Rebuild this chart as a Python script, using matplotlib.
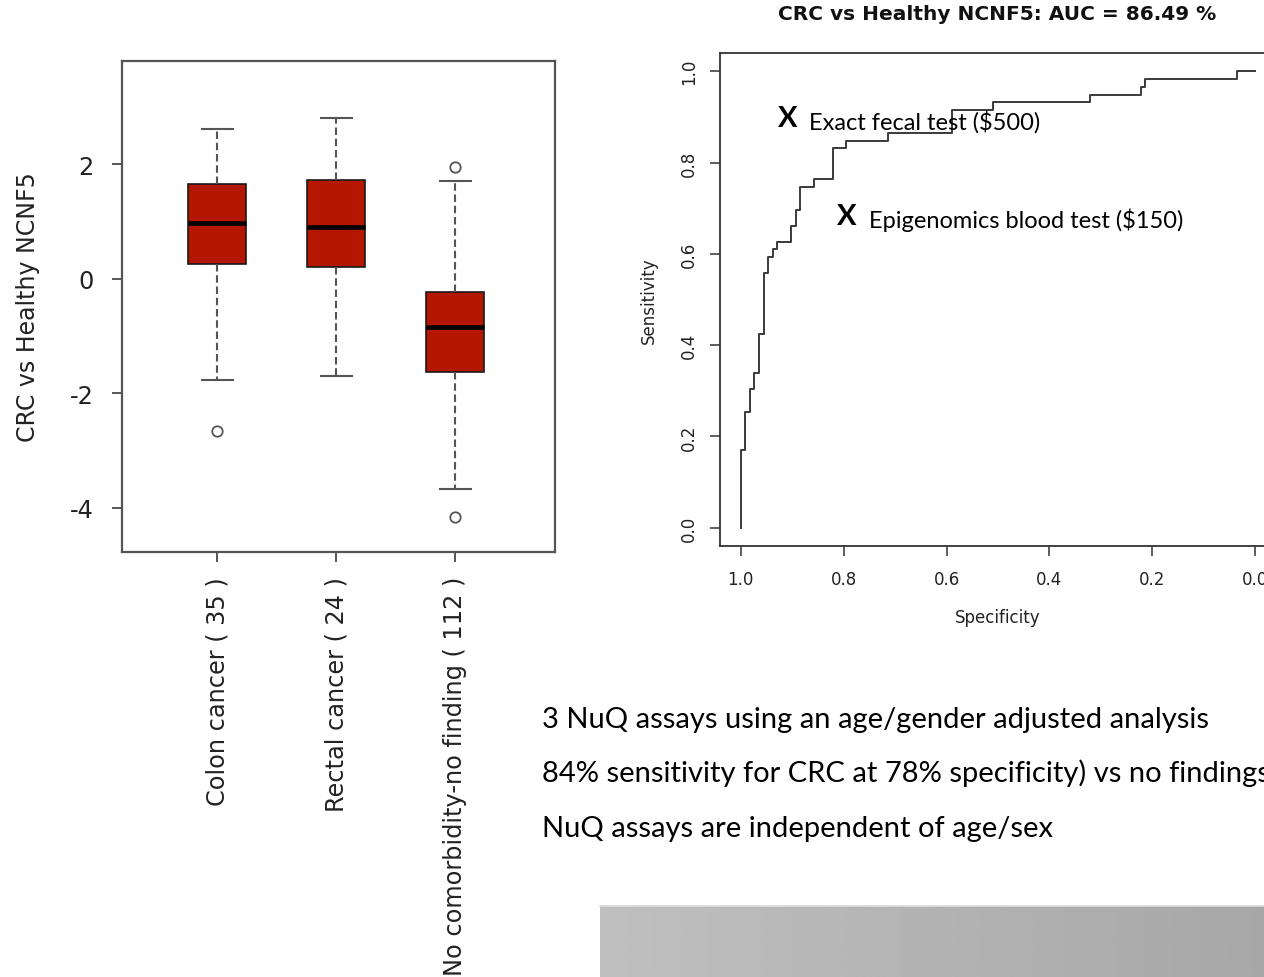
import matplotlib
matplotlib.use('Agg')
import matplotlib.pyplot as plt
import numpy as np

plt.rcParams['axes.unicode_minus'] = False
plt.rcParams['font.family'] = 'DejaVu Sans'

# box plot summary for each group (NCNF5 score)
groups = ['Colon cancer ( 35 )', 'Rectal cancer ( 24 )', 'No comorbidity-no finding ( 112 )']
whisker_low = [-1.77, -1.69, -3.67]
q1 = [0.25, 0.20, -1.63]
median = [0.97, 0.90, -0.85]
q3 = [1.66, 1.72, -0.23]
whisker_high = [2.62, 2.80, 1.71]
outliers = [[-2.65], [], [1.95, -4.16]]

# ROC curve, CRC vs healthy: specificity where each rise happens, sensitivity after it
specificity = [1.0, 1.0, 0.991, 0.982, 0.973, 0.964, 0.955, 0.946, 0.938, 0.929,
               0.902, 0.893, 0.884, 0.857, 0.821, 0.795, 0.714, 0.589, 0.509,
               0.321, 0.223, 0.214, 0.036, 0.0]
sensitivity = [0.0, 0.170, 0.254, 0.305, 0.339, 0.424, 0.559, 0.593, 0.610, 0.627,
               0.661, 0.695, 0.746, 0.763, 0.831, 0.847, 0.864, 0.915, 0.932,
               0.949, 0.966, 0.983, 1.0, 1.0]
roc_title = 'CRC vs Healthy NCNF5: AUC = 86.49 %'

# competing tests marked on the ROC plot
tests = ['Exact fecal test ($500)', 'Epigenomics blood test ($150)']
test_spec = [0.909, 0.793]
test_sens = [0.898, 0.683]

notes = ['3 NuQ assays using an age/gender adjusted analysis',
         '84% sensitivity for CRC at 78% specificity) vs no findings',
         'NuQ assays are independent of age/sex']

W, H = 1264, 978
fig = plt.figure(figsize=(W / 100, H / 100), dpi=100)

def px_axes(left, top, right, bottom):
    return fig.add_axes([left / W, 1 - bottom / H, (right - left) / W, (bottom - top) / H])

# ---- left: box plot ----
ax1 = px_axes(122, 62, 555, 553)
stats = []
for i in range(len(groups)):
    stats.append(dict(med=median[i], q1=q1[i], q3=q3[i], whislo=whisker_low[i],
                      whishi=whisker_high[i], fliers=outliers[i], label=groups[i]))
ax1.bxp(stats, positions=[1, 2, 3], widths=0.49, capwidths=0.26, patch_artist=True,
        boxprops=dict(facecolor='#b41600', edgecolor='#1a1a1a', linewidth=1.2),
        medianprops=dict(color='black', linewidth=3.3),
        whiskerprops=dict(color='#555555', linewidth=1.5, linestyle=(0, (3.6, 1.8))),
        capprops=dict(color='#555555', linewidth=1.5),
        flierprops=dict(marker='o', markerfacecolor='none', markeredgecolor='#555555',
                        markersize=7.5, markeredgewidth=1.3))
ax1.set_xlim(0.2, 3.84)
ax1.set_ylim(-4.77, 3.80)
ax1.set_yticks([-4, -2, 0, 2])
ax1.set_yticklabels(['-4', '-2', '0', '2'])
ax1.set_xticks([1, 2, 3])
ax1.set_xticklabels(groups, rotation=90, va='top', ha='center')
ax1.tick_params(axis='both', length=7.2, width=1.4, color='#555555', labelsize=17.3,
                labelcolor='#222222')
ax1.tick_params(axis='y', pad=13)
ax1.tick_params(axis='x', pad=10)
for s in ax1.spines.values():
    s.set_color('#555555')
    s.set_linewidth(1.6)
ax1.set_ylabel('CRC vs Healthy NCNF5', fontsize=17, color='#222222', labelpad=22)

# ---- right: ROC curve ----
ax2 = px_axes(720, 54, 1276, 547)
ax2.step(specificity, sensitivity, where='post', color='#3a3a3a', linewidth=1.4)
ax2.set_xlim(1.04, -0.04)
ax2.set_ylim(-0.04, 1.04)
ticks = [1.0, 0.8, 0.6, 0.4, 0.2, 0.0]
ax2.set_xticks(ticks)
ax2.set_xticklabels(['%.1f' % t for t in ticks])
ax2.set_yticks(ticks)
ax2.set_yticklabels(['%.1f' % t for t in ticks], rotation=90, va='center')
ax2.tick_params(axis='both', length=7, width=1.1, color='#333333', labelsize=12,
                labelcolor='#222222')
ax2.tick_params(axis='x', pad=10)
ax2.tick_params(axis='y', pad=9)
for s in ax2.spines.values():
    s.set_color('#333333')
    s.set_linewidth(1.3)
ax2.set_xlabel('Specificity', fontsize=12, color='#222222', labelpad=15)
ax2.set_ylabel('Sensitivity', fontsize=12, color='#222222', labelpad=16)
fig.text(997 / W, 1 - 14 / H, roc_title, ha='center', va='center', fontsize=14.5,
         fontweight='bold', color='#111111')

for name, sp, se in zip(tests, test_spec, test_sens):
    ax2.text(sp, se, 'X', ha='center', va='center', fontsize=21, fontweight='bold',
             family='Lato', color='black')
    ax2.annotate(name, (sp, se), xytext=(22 * 0.72, -3 * 0.72), textcoords='offset points',
                 ha='left', va='center', fontsize=17, family='Lato', color='black')

# ---- summary text ----
for i, line in enumerate(notes):
    fig.text(542 / W, 1 - (728 + 54.5 * i) / H, line, ha='left', va='baseline',
             fontsize=21, family='Lato', color='black')

# grey gradient panel, bottom right
gax = px_axes(600, 907, W, H)
grad = np.linspace(0.75, 0.655, 256)[None, :]
gax.imshow(grad, cmap='gray', vmin=0, vmax=1, aspect='auto', interpolation='bilinear')
gax.set_axis_off()
fig.add_artist(plt.Line2D([600 / W, 1], [1 - 907 / H, 1 - 907 / H], color='#dcdcdc',
                          linewidth=1.2))

fig.savefig('out.png', dpi=100)
